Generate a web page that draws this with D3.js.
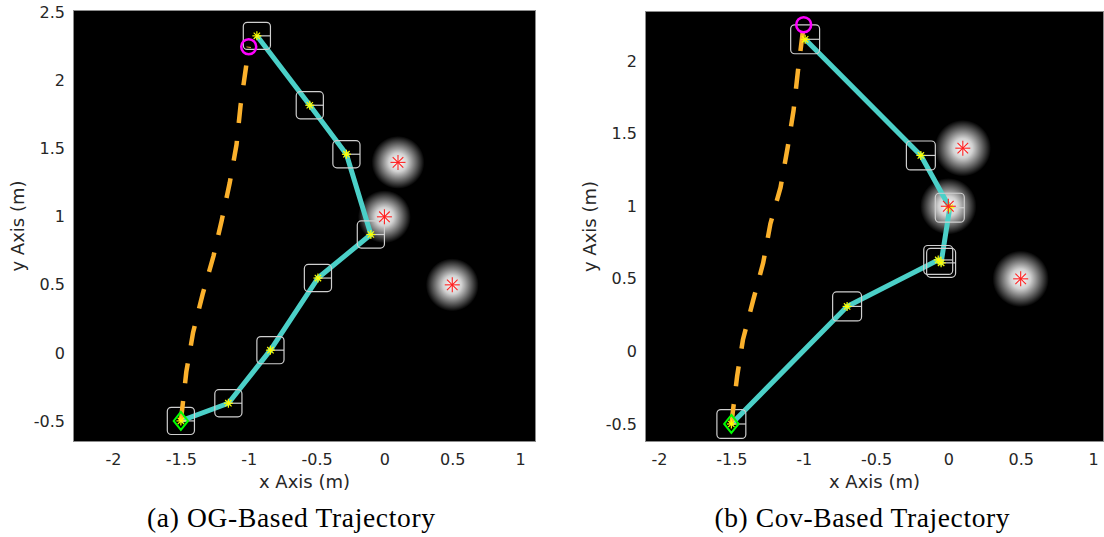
<!DOCTYPE html>
<html>
<head>
<meta charset="utf-8">
<script src="https://cdn.jsdelivr.net/npm/d3@7"></script>
<style>
  html, body { margin: 0; padding: 0; background: #fff; }
  svg { display: block; }
</style>
</head>
<body>
<svg id="fig" width="1104" height="537"></svg>
<script>
// ---- shared scene ----
const obstacles = [[0.1, 1.4], [0.0, 1.0], [0.5, 0.5]];
const startPt = [-1.5, -0.5];
const goalPt = [-1.0, 2.25];

// ---- (a) OG-based planner ----
const ogPath = [[-1.5, -0.5], [-1.15, -0.37], [-0.84, 0.02], [-0.49, 0.55],
                [-0.10, 0.87], [-0.28, 1.46], [-0.55, 1.82], [-0.94, 2.33]];
const ogReference = [[-1.5, -0.5], [-1.46, -0.14], [-1.41, 0.15], [-1.34, 0.43],
                     [-1.26, 0.71], [-1.20, 0.97], [-1.14, 1.25], [-1.09, 1.53],
                     [-1.06, 1.82], [-1.02, 2.10], [-1.0, 2.25]];
const ogXTicks = [-2, -1.5, -1, -0.5, 0, 0.5, 1];
const ogYTicks = [-0.5, 0, 0.5, 1, 1.5, 2, 2.5];

// ---- (b) covariance-based planner ----
const covPath = [[-1.5, -0.5], [-0.70, 0.31], [-0.07, 0.63], [-0.05, 0.61],
                 [0.01, 0.99], [-0.19, 1.35], [-0.99, 2.15]];
const covReference = [[-1.5, -0.5], [-1.46, -0.17], [-1.42, 0.08], [-1.35, 0.35],
                      [-1.28, 0.61], [-1.23, 0.88], [-1.16, 1.13], [-1.11, 1.41],
                      [-1.07, 1.66], [-1.04, 1.93], [-1.0, 2.25]];
const covXTicks = [-2, -1.5, -1, -0.5, 0, 0.5, 1];
const covYTicks = [-0.5, 0, 0.5, 1, 1.5, 2];

const svg = d3.select("#fig");

const defs = svg.append("defs");
const grad = defs.append("radialGradient").attr("id", "glow");
grad.append("stop").attr("offset", "0%").attr("stop-color", "#fff").attr("stop-opacity", 1);
grad.append("stop").attr("offset", "35%").attr("stop-color", "#fff").attr("stop-opacity", 0.82);
grad.append("stop").attr("offset", "70%").attr("stop-color", "#fff").attr("stop-opacity", 0.38);
grad.append("stop").attr("offset", "100%").attr("stop-color", "#fff").attr("stop-opacity", 0);

const panels = [
  { path: ogPath, ref: ogReference, xTicks: ogXTicks, yTicks: ogYTicks,
    xDom: [-2.295, 1.117], yDom: [-0.655, 2.52],
    left: 73, right: 536, top: 10, bottom: 442, yLabelX: 18,
    caption: "(a) OG-Based Trajectory", capX: 291, capW: 288 },
  { path: covPath, ref: covReference, xTicks: covXTicks, yTicks: covYTicks,
    xDom: [-2.097, 1.076], yDom: [-0.624, 2.345],
    left: 645, right: 1104, top: 11, bottom: 442, yLabelX: 590,
    caption: "(b) Cov-Based Trajectory", capX: 862, capW: 295 }
];

// asterisk marker: four crossing strokes
function asterisk(g, cx, cy, r, color, w) {
  const d = r * Math.SQRT1_2;
  const segs = [[-r, 0, r, 0], [0, -r, 0, r], [-d, -d, d, d], [-d, d, d, -d]];
  segs.forEach(s => g.append("line")
    .attr("x1", cx + s[0]).attr("y1", cy + s[1])
    .attr("x2", cx + s[2]).attr("y2", cy + s[3])
    .attr("stroke", color).attr("stroke-width", w));
}

panels.forEach((p, i) => {
  const x = d3.scaleLinear().domain(p.xDom).range([p.left, p.right]);
  const y = d3.scaleLinear().domain(p.yDom).range([p.bottom, p.top]);
  const g = svg.append("g");
  const clipId = "clip" + i;
  defs.append("clipPath").attr("id", clipId).append("rect")
    .attr("x", p.left).attr("y", p.top)
    .attr("width", p.right - p.left).attr("height", p.bottom - p.top);

  g.append("rect").attr("x", p.left).attr("y", p.top)
    .attr("width", p.right - p.left).attr("height", p.bottom - p.top)
    .attr("fill", "#000");

  const plot = g.append("g").attr("clip-path", `url(#${clipId})`);
  const unit = x(1) - x(0);

  // obstacle uncertainty glow
  plot.selectAll("circle.glow").data(obstacles).join("circle")
    .attr("class", "glow")
    .attr("cx", d => x(d[0])).attr("cy", d => y(d[1]))
    .attr("r", 0.195 * unit).attr("fill", "url(#glow)");

  // planned trajectory
  const line = d3.line().x(d => x(d[0])).y(d => y(d[1]));
  plot.append("path").attr("d", line(p.path))
    .attr("fill", "none").attr("stroke", "#4BD0C8")
    .attr("stroke-width", 5).attr("stroke-linejoin", "round");

  // robot footprint at each waypoint
  const half = 0.1 * unit;
  const fp = plot.selectAll("g.fp").data(p.path).join("g").attr("class", "fp");
  fp.append("rect")
    .attr("x", d => x(d[0]) - half).attr("y", d => y(d[1]) - half)
    .attr("width", 2 * half).attr("height", 2 * half)
    .attr("rx", 4).attr("fill", "none")
    .attr("stroke", "#cfcfcf").attr("stroke-width", 1.2);
  fp.append("line")
    .attr("x1", d => x(d[0])).attr("y1", d => y(d[1]))
    .attr("x2", d => x(d[0]) + half).attr("y2", d => y(d[1]))
    .attr("stroke", "#cfcfcf").attr("stroke-width", 1.2);

  // reference straight-line path
  plot.append("path").attr("d", line(p.ref))
    .attr("fill", "none").attr("stroke", "#FBB12C")
    .attr("stroke-width", 4.5).attr("stroke-dasharray", "20,18");

  // waypoint markers
  p.path.forEach(d => asterisk(plot, x(d[0]), y(d[1]), 4.5, "#FFFF00", 1.2));

  // obstacles
  obstacles.forEach(d => asterisk(plot, x(d[0]), y(d[1]), 7.5, "#FF2020", 1.1));

  // start and goal
  const s = 9;
  plot.append("path")
    .attr("d", `M${x(startPt[0])},${y(startPt[1]) - s} L${x(startPt[0]) + s * 0.8},${y(startPt[1])} L${x(startPt[0])},${y(startPt[1]) + s} L${x(startPt[0]) - s * 0.8},${y(startPt[1])} Z`)
    .attr("fill", "none").attr("stroke", "#00FF00").attr("stroke-width", 2);
  plot.append("circle").attr("cx", x(goalPt[0])).attr("cy", y(goalPt[1]))
    .attr("r", 7.5).attr("fill", "none").attr("stroke", "#FF00FF").attr("stroke-width", 2.5);

  // axis frame
  g.append("rect").attr("x", p.left + 0.5).attr("y", p.top + 0.5)
    .attr("width", p.right - p.left - 1).attr("height", p.bottom - p.top - 1)
    .attr("fill", "none").attr("stroke", "#8c8c8c").attr("stroke-width", 1);

  // tick labels
  const fmt = v => String(v);
  g.append("g").attr("transform", `translate(0,${p.bottom})`)
    .call(d3.axisBottom(x).tickValues(p.xTicks).tickFormat(fmt).tickSize(0).tickPadding(12))
    .call(a => a.select(".domain").remove())
    .call(a => a.selectAll("text").attr("font-family", "DejaVu Sans")
      .attr("font-size", 16).attr("fill", "#262626"));
  g.append("g").attr("transform", `translate(${p.left},0)`)
    .call(d3.axisLeft(y).tickValues(p.yTicks).tickFormat(fmt).tickSize(0).tickPadding(8))
    .call(a => a.select(".domain").remove())
    .call(a => a.selectAll("text").attr("font-family", "DejaVu Sans")
      .attr("font-size", 16).attr("fill", "#262626"));

  // axis titles
  g.append("text").attr("x", (p.left + p.right) / 2)
    .attr("y", 488).attr("text-anchor", "middle")
    .attr("font-family", "DejaVu Sans").attr("font-size", 18).attr("fill", "#262626")
    .text("x Axis (m)");
  g.append("text")
    .attr("transform", `translate(${p.yLabelX + 6},${(p.top + p.bottom) / 2}) rotate(-90)`)
    .attr("text-anchor", "middle")
    .attr("font-family", "DejaVu Sans").attr("font-size", 18).attr("fill", "#262626")
    .text("y Axis (m)");

  // caption
  svg.append("text").attr("x", p.capX - p.capW / 2).attr("y", 527)
    .attr("font-family", "Liberation Serif").attr("font-size", 27.5).attr("fill", "#000")
    .attr("textLength", p.capW).attr("lengthAdjust", "spacing")
    .text(p.caption);
});
</script>
</body>
</html>
